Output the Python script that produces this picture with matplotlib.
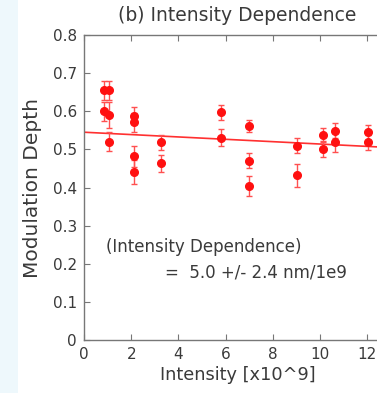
import matplotlib
matplotlib.use("Agg")
import matplotlib.pyplot as plt
import numpy as np

plt.rcParams['font.family'] = ['DejaVu Sans']

intensity = [0.85, 1.05, 0.85, 1.05, 1.05,
             2.13, 2.13, 2.13, 2.13,
             3.27, 3.27,
             5.79, 5.79,
             7.0, 7.0, 7.0,
             9.0, 9.0,
             10.13, 10.13,
             10.64, 10.64,
             12.03, 12.03]
depth = [0.655, 0.655, 0.600, 0.590, 0.520,
         0.588, 0.571, 0.482, 0.441,
         0.519, 0.463,
         0.597, 0.531,
         0.561, 0.470, 0.404,
         0.510, 0.432,
         0.539, 0.500,
         0.549, 0.519,
         0.545, 0.519]
depth_err = [0.025, 0.025, 0.025, 0.035, 0.025,
             0.022, 0.025, 0.027, 0.032,
             0.02, 0.022,
             0.02, 0.022,
             0.015, 0.02, 0.025,
             0.02, 0.03,
             0.018, 0.02,
             0.02, 0.025,
             0.02, 0.02]
fit_x = [0.0, 13.0]
fit_intercept = 0.545
fit_slope = -0.0031

fig = plt.figure(figsize=(3.77, 3.93), dpi=100)
fig.patches.append(plt.Rectangle((0, 0), 18/377, 1, transform=fig.transFigure,
                                 facecolor='#eef8fc', edgecolor='none', zorder=-10))
ax = fig.add_axes([84/377, (393-340)/393, (391-84)/377, (340-35)/393])
ax.set_xlim(0, 13)
ax.set_ylim(0, 0.8)

red = '#ff1010'
ax.errorbar(intensity, depth, yerr=depth_err, fmt='o', color=red, ecolor='#ff5050',
            markersize=5.5, capsize=2.5, elinewidth=1.0, capthick=1.0, zorder=3)
fx = np.array(fit_x)
ax.plot(fx, fit_intercept + fit_slope * fx, color='#ff3030', lw=1.2, zorder=2)

txt = '#3a3a3a'
ax.set_xticks([0, 2, 4, 6, 8, 10, 12])
ax.set_yticks([0, 0.1, 0.2, 0.3, 0.4, 0.5, 0.6, 0.7, 0.8])
ax.set_yticklabels(['0', '0.1', '0.2', '0.3', '0.4', '0.5', '0.6', '0.7', '0.8'])
ax.tick_params(direction='in', length=4, width=0.8, colors='#777777',
               labelcolor=txt, labelsize=11, top=True, pad=5)
for s in ax.spines.values():
    s.set_color('#777777')
    s.set_linewidth(1.0)

ax.set_title('(b) Intensity Dependence', fontsize=13.5, color=txt, pad=10)
ax.set_xlabel('Intensity [x10^9]', fontsize=12.8, color=txt, labelpad=3)
ax.set_ylabel('Modulation Depth', fontsize=14.5, color=txt, labelpad=8)

ax.text(0.94, 0.244, '(Intensity Dependence)', fontsize=12, color=txt, va='center')
ax.text(3.45, 0.178, '=  5.0 +/- 2.4 nm/1e9', fontsize=12, color=txt, va='center')

fig.savefig('out.png', dpi=100)
